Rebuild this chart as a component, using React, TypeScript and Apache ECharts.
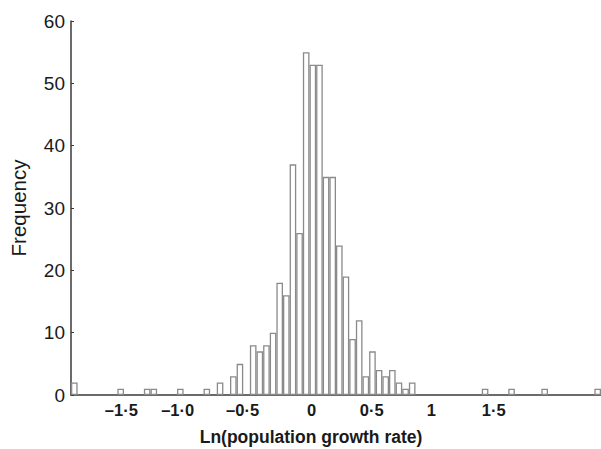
import React, { useEffect, useRef } from "react";
import * as echarts from "echarts";

// Histogram bins (80 bins of equal width); counts per bin, left to right
const binCounts: number[] = [
  2, 0, 0, 0, 0, 0, 0, 1, 0, 0,
  0, 1, 1, 0, 0, 0, 1, 0, 0, 0,
  1, 0, 2, 0, 3, 5, 0, 8, 7, 8,
  10, 18, 16, 37, 26, 55, 53, 53, 35, 35,
  24, 19, 9, 12, 3, 7, 4, 3, 4, 2,
  1, 2, 0, 0, 0, 0, 0, 0, 0, 0,
  0, 0, 1, 0, 0, 0, 1, 0, 0, 0,
  0, 1, 0, 0, 0, 0, 0, 0, 0, 1,
];
const binNames: string[] = binCounts.map((_, i) => `bin${i}`);

// X tick labels and where they sit, in bin units from the left edge
const xTickLabels: string[] = ["–1·5", "–1·0", "–0·5", "0", "0·5", "1", "1·5"];
const xTickPositions: number[] = [7.6, 16.1, 25.9, 36.3, 45.4, 54.4, 63.8];

const yMax = 60;
const yStep = 10;

export default function App() {
  const ref = useRef<HTMLDivElement>(null);
  useEffect(() => {
    if (!ref.current) return;
    const chart = echarts.init(ref.current, undefined, { renderer: "svg" });
    const font = "'Liberation Sans', Arial, Helvetica, sans-serif";
    chart.setOption({
      animation: false,
      backgroundColor: "#ffffff",
      grid: { left: 68, right: -2, top: 21, bottom: 54, containLabel: false },
      xAxis: [
        {
          type: "category",
          data: binNames,
          boundaryGap: true,
          axisLine: { show: true, lineStyle: { color: "#3a3a3a", width: 1.5 } },
          axisTick: { show: false },
          axisLabel: { show: false },
          splitLine: { show: false },
        },
        {
          type: "value",
          min: 0,
          max: binCounts.length,
          position: "bottom",
          axisLine: { show: false },
          axisTick: { show: false },
          splitLine: { show: false },
          axisLabel: {
            show: true,
            customValues: xTickPositions,
            margin: 6,
            fontFamily: font,
            fontWeight: "bold",
            fontSize: 16.5,
            color: "#1a1a1a",
            formatter: (v: number) => {
              const idx = xTickPositions.findIndex((p) => Math.abs(p - v) < 1e-6);
              return idx >= 0 ? xTickLabels[idx] : "";
            },
          },
        },
      ],
      yAxis: {
        type: "value",
        min: 0,
        max: yMax,
        interval: yStep,
        name: "Frequency",
        nameLocation: "middle",
        nameRotate: 90,
        nameGap: 42,
        nameTextStyle: { fontFamily: font, fontSize: 20.5, color: "#1a1a1a" },
        axisLine: { show: true, lineStyle: { color: "#3a3a3a", width: 1.5 } },
        axisTick: { show: true, inside: true, length: 3, lineStyle: { color: "#3a3a3a" } },
        axisLabel: { fontFamily: font, fontSize: 19, color: "#1a1a1a", margin: 6 },
        splitLine: { show: false },
      },
      graphic: [
        {
          type: "text",
          x: 311,
          y: 437,
          style: {
            text: "Ln(population growth rate)",
            font: `bold 17.5px ${font}`,
            fill: "#1a1a1a",
            textAlign: "center",
            textVerticalAlign: "middle",
          },
        },
      ],
      series: [
        {
          type: "bar",
          xAxisIndex: 0,
          data: binCounts.map((v) => (v === 0 ? "-" : v)),
          barCategoryGap: "0%",
          itemStyle: { color: "#ffffff", borderColor: "#8a8a8a", borderWidth: 1.3 },
          emphasis: { disabled: true },
        },
      ],
    });
    return () => chart.dispose();
  }, []);
  return (
    <div
      ref={ref}
      style={{ position: "fixed", left: 0, top: 0, width: 601, height: 449, background: "#fff" }}
    />
  );
}
